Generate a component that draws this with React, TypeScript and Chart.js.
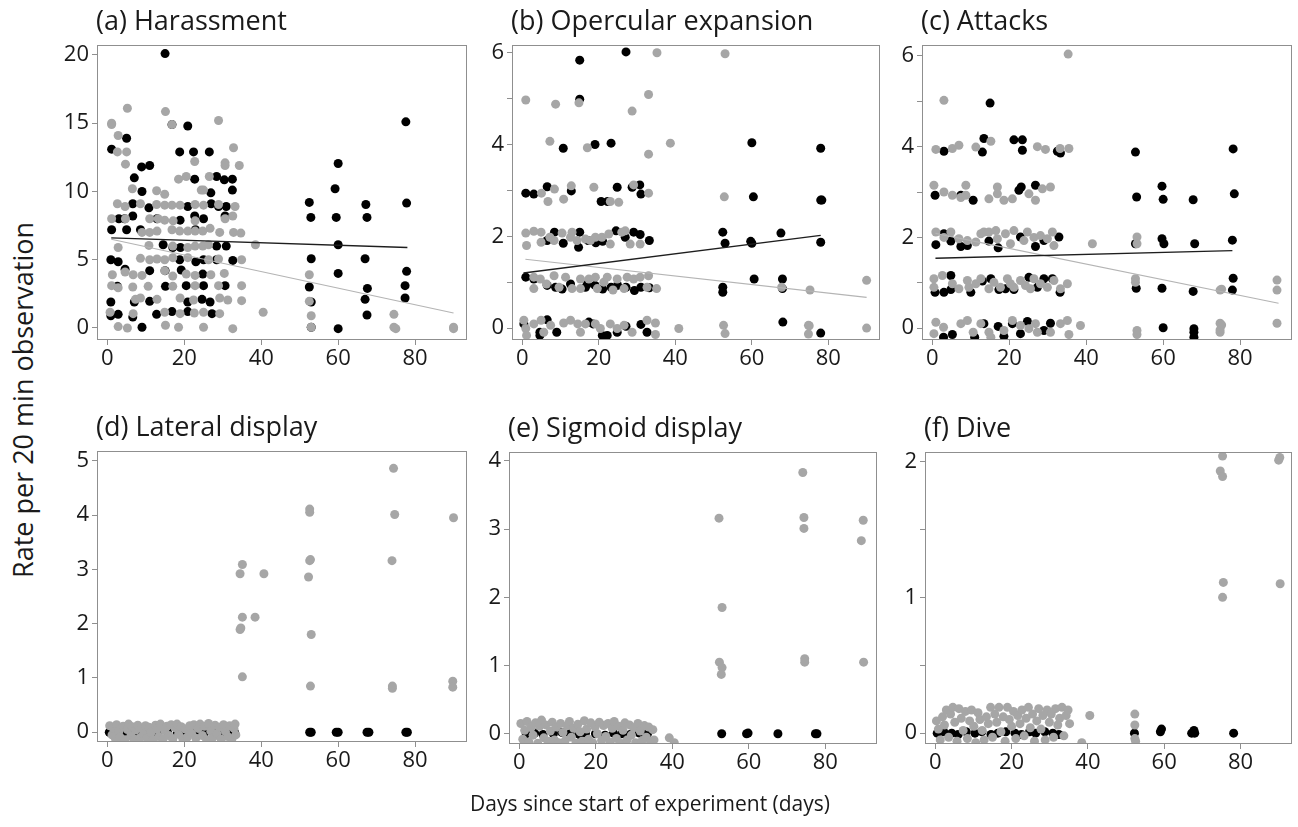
import React, { useEffect, useRef } from "react";
import { Chart, registerables } from "chart.js";

Chart.register(...registerables);

type Pt = [number, number];

// ---------- shared axis data ----------
const xTickValues = [0, 20, 40, 60, 80];
const xAxisTitle = "Days since start of experiment (days)";
const yAxisTitle = "Rate per 20 min observation";

// ---------- (a) Harassment ----------
const harassTitle = "(a) Harassment";
const harassYTicks = [0, 5, 10, 15, 20];
const harassYLabels = [0, 5, 10, 15, 20];
const harassBlack: Pt[] = [
  [15, 20.1], [20.9, 14.8], [16.8, 14.9], [5, 13.9], [1.1, 13.1], [18.8, 12.9], [22.4, 12.9], [26.5, 12.9],
  [8.9, 11.8], [11, 11.9], [7, 11], [22.7, 10.9], [28.4, 11.1], [30.4, 10.85], [32.5, 10.9], [9, 10],
  [26.9, 9.9], [32.5, 10.1], [6.6, 9.1], [10.8, 8.8], [20.9, 8.9], [27, 9.1], [28.9, 8.9], [30.9, 8.9],
  [3, 8], [4.5, 8], [6.6, 8.2], [12.9, 8], [18.9, 7.9], [22.7, 8.2], [25, 8], [30.6, 8.2],
  [1.1, 7.2], [5, 7.2], [8.6, 7.2], [22.9, 7.2], [14.5, 6.1], [17, 5.9], [19, 5.9], [28.4, 6], [30.9, 6],
  [0.9, 5], [2.8, 4.85], [18.8, 5], [23, 4.85], [25, 5], [28.4, 5], [32.6, 4.95], [4.6, 4.3], [11, 4.2],
  [15, 4.2], [19.2, 4.25], [24.8, 3.95], [2.6, 3.05], [15.1, 3.05], [20.5, 3.1], [25, 3.1], [30.6, 3.1],
  [0.9, 1.9], [7, 1.9], [11, 1.95], [20.9, 1.9], [24.6, 2.1], [26.7, 1.9], [2.8, 1], [6.6, 0.8],
  [12.8, 1], [16.8, 1.2], [20.9, 1.2], [27.2, 1.05], [9, 0.05], [0.9, 0.9],
  [60, 12.05], [59.2, 10.2], [52.5, 9.2], [59.5, 8.1], [52.9, 8.1], [67.2, 9.05], [67.5, 8.1], [77.8, 9.15],
  [60, 6.1], [53, 5.07], [67, 5.07], [60, 4.0], [77.8, 4.15], [52.5, 3.0], [67.6, 2.9], [77.4, 3.1],
  [53, 1.9], [67, 2.1], [77.4, 2.2], [67.5, 0.95], [53, 0.05], [60, -0.05], [77.6, 15.1],
];
const harassGray: Pt[] = [
  [5.2, 16.1], [15.1, 15.85], [1.1, 15], [1.1, 14.9], [28.9, 15.2], [16.8, 14.9], [2.8, 14.1], [2.6, 12.9],
  [5, 12.9], [32.8, 13.2], [4.7, 12], [22.7, 12.2], [30.6, 12.1], [34.3, 11.9], [30.6, 11.9], [6.5, 10.2],
  [12.8, 10.05], [14.9, 9.8], [18.5, 10.9], [20.5, 11.1], [26.5, 11.1], [24.4, 10.1], [25, 10.1], [2.6, 9.1],
  [4.6, 8.9], [8.6, 9.1], [12.8, 9.05], [14.9, 9], [16.8, 9], [18.9, 9], [22.8, 9.05], [25, 9], [28.9, 9.05],
  [33.2, 8.9], [1.1, 8], [4.7, 8], [11, 8], [13.2, 8], [14.9, 7.9], [17.1, 7.85], [22.8, 7.85], [30.6, 8],
  [32.6, 8.2], [9, 7], [11, 7], [12.9, 7.1], [16.8, 7.2], [18.8, 7.1], [20.9, 7.1], [22.8, 7.1], [24.8, 7.1],
  [26.7, 7.3], [29.2, 7], [32.8, 7], [34.7, 6.95], [10.8, 6.05], [17, 6], [20.9, 5.9], [22.8, 6], [24.8, 6],
  [26.3, 6.1], [2.8, 5.9], [38.5, 6.1], [8.6, 5.1], [11, 5], [12.9, 5.05], [14.9, 5], [17, 5.15], [20.9, 5.15],
  [26.3, 5], [28.9, 5.05], [34.9, 5], [1.3, 3.9], [4.6, 4.1], [6.7, 3.9], [9, 3.85], [14.9, 4.2], [17, 3.8],
  [20.5, 3.95], [22.8, 3.85], [26.9, 3.9], [30.4, 4], [1.1, 3.1], [2.8, 2.95], [6.6, 3], [10.6, 3.05],
  [17, 3.05], [22.8, 3.1], [28.9, 3.1], [34.9, 3.1], [7.3, 2.1], [8.6, 2.2], [12.9, 2.1], [18.9, 2.2],
  [22.4, 2.05], [29.2, 2.2], [31.3, 2.05], [34.9, 2], [0.7, 1.15], [6.7, 1.05], [14.9, 1.15], [18.9, 1.05],
  [22.6, 1.1], [25, 1.15], [29.2, 1.05], [2.8, 0.1], [5.2, 0], [15.1, 0.2], [18.5, 0.05], [25, 0.05],
  [32.6, -0.05], [40.5, 1.15], [52.5, 3.9], [52.5, 1.95], [53, 0.9], [53, 0.05], [74.5, 1], [74.5, 0.05],
  [75, -0.05], [90, 0.05], [90, -0.05],
];
const harassBlackFit: Pt[] = [[1, 6.6], [78, 5.9]];
const harassGrayFit: Pt[] = [[1, 6.5], [90, 1.1]];

// ---------- (b) Opercular expansion ----------
const operTitle = "(b) Opercular expansion";
const operYTicks = [0, 1, 2, 3, 4, 5, 6];
const operYLabels = [0, 2, 4, 6];
const operBlack: Pt[] = [
  [15, 5.84], [27.1, 6.02], [15, 4.99], [10.7, 3.92], [19, 4], [23.2, 4.03], [0.9, 2.94], [3, 2.92],
  [6.5, 3.08], [12.8, 2.99], [24.8, 3.07], [28.7, 3.07], [30.7, 3.12], [31, 2.92], [20.6, 2.76], [22.3, 2.76],
  [8.4, 2.09], [15, 2.09], [17.2, 1.91], [14.7, 1.76], [19.2, 1.86], [21, 1.89], [24.5, 2.12], [26.9, 1.98],
  [29.1, 2.09], [30.8, 2.04], [33.2, 1.91], [10.7, 1.85], [6.5, 1.91], [0.9, 1.11], [3, 1.07], [6.5, 0.93],
  [8.7, 0.89], [10.4, 0.85], [12.6, 0.96], [16.5, 0.89], [17, 0.96], [19, 0.93], [21, 0.85], [23.2, 0.89],
  [24.9, 0.93], [27.1, 0.89], [29.3, 0.82], [31, 0.89], [33.2, 0.88], [0.4, 0.09], [4.6, -0.09], [4.6, -0.16],
  [6.5, 0.18], [9, -0.09], [17.4, 0.13], [18.5, 0.09], [20.9, -0.16], [22.2, -0.16], [24.8, -0.09], [27.1, 0.04],
  [31, 0.08], [32.6, -0.09],
  [60, 4.04], [60.4, 2.86], [52.4, 2.09], [53, 1.85], [59.7, 1.89], [60, 1.85], [67.6, 2.07], [78, 1.87],
  [60.6, 1.07], [68, 1.07], [68, 0.86], [52.4, 0.89], [52.4, 0.78], [68.1, 0.13], [78, 3.92], [78, 2.79],
  [78.3, 2.79], [78, -0.11],
];
const operGray: Pt[] = [
  [0.9, 4.97], [8.7, 4.88], [14.8, 4.91], [28.7, 4.73], [33, 5.09], [35.2, 6], [53, 5.98], [7.2, 4.07],
  [17, 3.93], [33, 3.79], [38.7, 4.03], [5, 2.94], [6.7, 2.76], [8.4, 3.03], [10.8, 2.81], [12.8, 3.1],
  [18.7, 3.07], [23, 2.76], [25.2, 2.74], [29.1, 3.12], [33, 2.94], [52.8, 2.86],
  [0.9, 2.07], [1.1, 1.8], [3, 2.11], [4.9, 2.09], [4.9, 1.87], [7.2, 1.98], [8.3, 1.91], [10.4, 2.07],
  [12.6, 1.98], [13, 2.09], [14.3, 1.91], [16.5, 1.94], [17.8, 1.91], [19.1, 1.98], [20.8, 1.98], [22.6, 2.05],
  [23, 1.83], [26, 2.09], [26.9, 2.12], [28.2, 1.83], [30.8, 1.83],
  [3, 1.11], [3, 0.86], [4.7, 1.07], [6.3, 0.96], [8.3, 1.14], [9.6, 0.89], [11.3, 1.11], [13, 0.86],
  [15.2, 1.07], [15.2, 0.86], [17.4, 1.07], [19.1, 1.11], [19.6, 0.86], [21.3, 1], [22.2, 1.11], [23.7, 0.83],
  [24.8, 1.07], [26.6, 0.86], [27.4, 1.11], [29.1, 1.07], [30.8, 1.11], [32.6, 0.89], [33, 1.14], [35.1, 0.86],
  [67.8, 0.89], [75.2, 0.83], [90, 1.04],
  [0.4, 0.17], [0.9, -0.01], [1.1, -0.16], [3, 0.09], [4.9, 0.17], [5.6, -0.09], [7.4, 0.06], [10.8, 0.11],
  [12.6, 0.17], [14.5, 0.09], [15.2, -0.09], [16.5, 0.09], [19.1, 0.09], [20.4, -0.01], [23, 0.09], [24.8, -0.01],
  [26.6, 0.06], [28.7, -0.09], [32.6, 0.17], [34.8, 0.11], [34.8, -0.14], [40.9, -0.01], [52.6, 0.06], [53, -0.12],
  [74.8, 0.06], [74.8, -0.13], [75, 0.05], [90, 0],
];
const operBlackFit: Pt[] = [[0.3, 1.2], [78, 2.02]];
const operGrayFit: Pt[] = [[0.8, 1.5], [90, 0.67]];

// ---------- (c) Attacks ----------
const attackTitle = "(c) Attacks";
const attackYTicks = [0, 1, 2, 3, 4, 5, 6];
const attackYLabels = [0, 2, 4, 6];
const attackBlack: Pt[] = [
  [15, 4.96], [3, 3.9], [13, 3.88], [13.4, 4.18], [21.2, 4.15], [23.4, 4.15], [23.4, 3.92], [32.5, 3.9],
  [33.3, 3.86], [0.7, 2.93], [7.4, 2.93], [10.6, 2.82], [22.5, 3.04], [23.1, 3.11], [26.8, 3.15],
  [0.9, 1.84], [3, 2.08], [4.8, 1.92], [7.4, 1.8], [9.1, 1.82], [14.7, 1.92], [17.1, 1.77], [22.9, 2.01],
  [26.8, 1.8], [29, 1.93], [32.9, 2.01], [0.7, 0.79], [3, 0.79], [4.8, 1.16], [4.8, 0.85], [10, 0.79],
  [13, 1.04], [15.2, 1.09], [17.3, 0.85], [19, 0.87], [21.2, 0.85], [25.1, 1.12], [27.3, 0.9], [29, 1.09],
  [31.2, 1.09], [33.2, 0.79], [2.9, -0.2], [5.2, -0.14], [13.4, 0.1], [11, -0.2], [17.1, 0.04], [18.6, -0.18],
  [20.8, 0.1], [22.9, -0.12], [24.7, 0.15], [29, -0.05], [30.7, 0.11],
  [52.8, 3.88], [53.1, 2.89], [59.7, 3.13], [60, 2.84], [67.8, 2.83], [52.8, 1.86], [59.7, 1.97], [60.2, 1.86],
  [68.2, 1.86], [53, 0.88], [59.7, 0.88], [67.8, 0.81], [60, 0.01], [68, -0.01], [68, -0.2], [68, -0.09],
  [78.2, 3.95], [78.5, 2.96], [78, 1.94], [78.2, 1.1], [78, 0.84],
];
const attackGray: Pt[] = [
  [3, 5.02], [35.3, 6.04], [0.9, 3.94], [5.2, 3.96], [6.9, 4.03], [11.3, 3.99], [15.2, 4.12], [27.3, 4],
  [29.4, 3.94], [33.2, 3.96], [35.5, 3.96],
  [0.4, 3.15], [3, 3], [5.2, 2.93], [7.4, 2.88], [8.7, 3.15], [8.7, 2.93], [14.7, 2.85], [16.9, 3.11],
  [16.9, 2.96], [18.6, 2.82], [20.8, 2.85], [25.1, 2.96], [26.8, 2.82], [28.6, 3.07], [30.7, 3.11],
  [0.9, 2.12], [3, 2], [4.8, 2.12], [6.9, 1.97], [9.1, 1.93], [11.3, 1.9], [12.6, 2.08], [13.4, 2.12],
  [14.7, 2.12], [16.5, 2.15], [16.9, 1.97], [19, 2.08], [20.3, 1.86], [21.2, 2.15], [23.8, 1.93], [24.7, 2.12],
  [26.4, 2], [28.1, 2.04], [29.9, 1.97], [31.2, 2.12], [31.6, 1.82], [41.6, 1.86], [53.2, 2.01], [53.2, 1.86],
  [0.4, 1.09], [0.4, 0.9], [2.6, 1.16], [5.2, 0.98], [6.9, 0.87], [9.1, 1.05], [9.5, 0.9], [11.3, 0.98],
  [12.6, 1.09], [14.7, 0.87], [16, 1.01], [17.7, 0.9], [19.5, 1.09], [20.3, 0.98], [21.2, 0.9], [22.9, 1.05],
  [24.2, 0.94], [25.5, 0.87], [26.4, 1.09], [28.1, 0.98], [29.9, 0.9], [31.6, 1.05], [33.3, 0.87], [35.1, 0.98],
  [52.8, 1.09], [52.8, 1.01], [74.8, 0.84], [75.2, 0.86], [89.6, 1.06], [89.6, 0.84],
  [0.4, -0.12], [0.9, 0.13], [2.9, 0.02], [7.4, 0.1], [9.1, 0.17], [10.6, -0.09], [12.6, 0.1], [14.7, -0.09],
  [15.2, -0.2], [18.6, -0.05], [20.8, 0.17], [22.9, 0.06], [25.1, -0.01], [26.8, 0.1], [27.3, -0.09],
  [30.7, -0.09], [33.3, 0.1], [35.1, 0.17], [35.5, -0.14], [38.5, 0.06], [53.2, -0.05], [53.2, -0.14],
  [74.8, 0.11], [74.8, -0.04], [75.2, 0.07], [74.8, -0.09], [89.6, 0.11],
];
const attackBlackFit: Pt[] = [[0.8, 1.54], [78, 1.71]];
const attackGrayFit: Pt[] = [[0.8, 2.09], [90, 0.55]];

// ---------- (d) Lateral display ----------
const lateralTitle = "(d) Lateral display";
const lateralYTicks = [0, 1, 2, 3, 4, 5];
const lateralYLabels = [0, 1, 2, 3, 4, 5];
const lateralBlack: Pt[] = [
  [0.5, 0], [2.6, 0.01], [4.9, -0.01], [7.4, 0], [9.5, 0.02], [12.3, 0], [13.1, -0.02], [15.6, 0.01],
  [18.2, 0], [20.6, -0.01], [23.3, 0.01], [25.4, 0], [27.8, -0.02], [30.1, 0], [32.7, 0.01], [33.1, -0.01],
  [52.6, 0], [53, 0], [59.5, 0], [60, 0], [67.5, 0], [68, 0], [77.6, 0], [78, 0],
];
const lateralGray: Pt[] = [
  [0.6, 0.12], [1.2, -0.05], [1.5, 0.08], [2.1, -0.12], [2.4, 0.14], [3.0, 0.02], [3.3, -0.09], [4.1, 0.11],
  [4.6, -0.14], [5.2, 0.05], [5.5, 0.15], [6.1, -0.07], [6.4, 0.1], [7.0, -0.13], [7.3, 0.04], [7.9, 0.13],
  [8.5, -0.1], [8.8, 0.07], [9.4, -0.03], [9.9, 0.12], [10.3, -0.11], [10.8, 0.09], [11.4, 0.0], [11.9, -0.14],
  [12.5, 0.13], [12.9, 0.06], [13.4, -0.08], [13.8, 0.15], [14.5, -0.12], [14.9, 0.03], [15.5, 0.11], [16.0, -0.06],
  [16.6, 0.14], [17.0, -0.13], [17.6, 0.08], [18.1, 0.15], [18.5, -0.04], [19.2, 0.1], [19.6, -0.12], [20.3, 0.06],
  [20.8, -0.09], [21.4, 0.12], [21.9, -0.02], [22.5, 0.14], [23.0, -0.11], [23.6, 0.07], [24.1, 0.15], [24.7, -0.06],
  [25.2, 0.11], [25.8, -0.14], [26.3, 0.16], [26.9, 0.02], [27.4, -0.1], [28.0, 0.13], [28.5, -0.03], [29.1, 0.09],
  [29.6, -0.13], [30.2, 0.14], [30.7, 0.01], [31.3, -0.08], [31.8, 0.12], [32.4, -0.12], [32.9, 0.07], [33.2, 0.15],
  [33.4, -0.05],
  [35.1, 3.09], [34.5, 2.92], [40.7, 2.92], [35.1, 2.12], [38.4, 2.12], [34.5, 1.89], [34.7, 1.92], [35.1, 1.02],
  [52.6, 4.11], [52.6, 4.05], [52.6, 3.16], [52.8, 3.18], [52.3, 2.86], [53, 1.8], [52.8, 0.85], [74.4, 4.86],
  [74.7, 4.01], [74, 3.16], [74.1, 0.85], [74.1, 0.81], [90, 3.95], [89.8, 0.94], [89.8, 0.83],
];

// ---------- (e) Sigmoid display ----------
const sigmoidTitle = "(e) Sigmoid display";
const sigmoidYTicks = [0, 1, 2, 3, 4];
const sigmoidYLabels = [0, 1, 2, 3, 4];
const sigmoidBlack: Pt[] = [
  [1.8, 0], [4.0, 0.01], [6.2, -0.01], [8.9, 0], [11.1, 0.02], [13.3, 0], [15.7, -0.01], [17.3, 0.01],
  [19.9, 0], [22.4, -0.02], [24.6, 0.01], [26.8, 0], [29.0, -0.01], [31.4, 0.01], [33.5, 0],
  [52.9, 0], [59.4, 0], [59.8, 0.01], [67.6, 0], [77.4, 0], [77.8, 0],
];
const sigmoidGray: Pt[] = [
  [0.4, 0.15], [0.9, -0.08], [1.4, 0.05], [2.0, 0.18], [2.5, -0.12], [3.1, 0.09], [3.6, -0.02], [4.2, 0.16],
  [4.8, -0.14], [5.3, 0.11], [5.8, 0.2], [6.4, -0.06], [6.9, 0.13], [7.5, -0.11], [8.1, 0.04], [8.6, 0.17],
  [9.2, -0.09], [9.7, 0.1], [10.3, -0.13], [10.8, 0.15], [11.4, 0.02], [12.0, -0.1], [12.5, 0.12], [13.1, 0.18],
  [13.6, -0.05], [14.2, 0.08], [14.8, -0.14], [15.3, 0.14], [15.9, 0.03], [16.4, -0.11], [17.0, 0.19], [17.6, 0.07],
  [18.1, -0.08], [18.7, 0.16], [19.2, -0.13], [19.8, 0.1], [20.4, 0.0], [20.9, 0.17], [21.5, -0.1], [22.0, 0.12],
  [22.6, -0.04], [23.2, 0.15], [23.7, -0.12], [24.3, 0.08], [24.8, 0.18], [25.4, -0.07], [26.0, 0.11], [26.5, -0.14],
  [27.1, 0.05], [27.6, 0.16], [28.2, -0.09], [28.8, 0.13], [29.3, -0.02], [29.9, 0.09], [30.4, -0.13], [31.0, 0.15],
  [31.6, 0.04], [32.1, -0.1], [32.7, 0.12], [33.2, -0.05], [33.8, 0.1], [34.3, -0.12], [34.9, 0.06], [35.2, -0.09],
  [39.2, -0.06], [40.5, -0.13],
  [52.2, 3.16], [53, 1.85], [52.3, 1.05], [53, 0.97], [52.8, 0.87], [74.1, 3.83], [74.4, 3.17], [74.4, 3.01],
  [74.6, 1.1], [74.6, 1.05], [89.9, 3.13], [89.4, 2.83], [90, 1.05],
];

// ---------- (f) Dive ----------
const diveTitle = "(f) Dive";
const diveYTicks = [0, 0.5, 1, 1.5, 2];
const diveYLabels = [0, 1, 2];
const diveBlack: Pt[] = [
  [0.5, 0], [2.2, 0.01], [4.3, 0], [6.0, -0.01], [8.1, 0.01], [10.4, 0], [12.2, 0.01], [14.6, -0.01],
  [16.4, 0], [18.5, 0.01], [20.9, 0], [22.6, -0.01], [24.7, 0.01], [26.3, 0], [28.7, 0.01], [30.8, 0],
  [32.4, -0.01], [52.2, 0], [59, 0.01], [59.3, 0.03], [67.2, 0], [68, 0], [67.8, 0.02], [78.2, 0],
];
const diveGray: Pt[] = [
  [0.3, 0.09], [0.8, 0.03], [1.3, -0.05], [1.9, 0.12], [2.4, 0.06], [2.9, 0.17], [3.5, -0.03], [4.0, 0.14],
  [4.6, 0.19], [5.1, 0.08], [5.7, -0.06], [6.2, 0.18], [6.8, 0.11], [7.3, 0.02], [7.9, 0.16], [8.4, -0.04],
  [9.0, 0.09], [9.5, 0.17], [10.1, 0.05], [10.6, -0.07], [11.2, 0.15], [11.7, 0.1], [12.3, 0.02], [12.8, -0.05],
  [13.4, 0.12], [13.9, 0.07], [14.5, 0.19], [15.0, -0.03], [15.6, 0.14], [16.1, 0.08], [16.7, 0.19], [17.2, 0.01],
  [17.8, 0.12], [18.3, -0.06], [18.9, 0.19], [19.4, 0.1], [20.0, 0.05], [20.5, 0.16], [21.1, -0.04], [21.6, 0.13],
  [22.2, 0.07], [22.7, 0.17], [23.3, -0.02], [23.8, 0.11], [24.4, 0.19], [24.9, 0.04], [25.5, 0.14], [26.0, -0.06],
  [26.6, 0.09], [27.1, 0.18], [27.7, 0.03], [28.2, 0.13], [28.8, -0.05], [29.3, 0.17], [29.9, 0.08], [30.4, 0.14],
  [31.0, -0.03], [31.5, 0.18], [32.1, 0.06], [32.6, 0.11], [33.2, 0.19], [33.7, -0.02], [34.3, 0.13], [34.8, 0.17],
  [35.2, 0.07], [40.5, 0.13], [38.4, -0.07],
  [52.3, 0.14], [52.3, 0.06], [52.3, -0.04], [52.5, -0.06], [75.3, 2.04], [74.7, 1.93], [75.3, 1.89],
  [75.5, 1.11], [75.3, 1.0], [90.3, 2.03], [90, 2.01], [90.4, 1.1],
];

// ---------- layout (positions, ranges, styles) ----------
const X_MIN = -2.7;
const X_MAX = 93.5;
const Y_AXIS_W = 52;
const TOP_PAD = 45;
const X_AXIS_H = 32;
const RIGHT_PAD = 8;

const FONT = "'Open Sans', 'DejaVu Sans', sans-serif";
const GRAY = "#a6a6a6";
const BLACK = "#000000";
const FRAME = "#8f8f8f";
const TEXT = "#1a1a1a";

interface PanelSpec {
  title: string;
  black: Pt[];
  gray: Pt[];
  blackFit?: Pt[];
  grayFit?: Pt[];
  yTicks: number[];
  yLabels: number[];
  yMin: number;
  yMax: number;
  frame: { l: number; t: number; r: number; b: number };
}

const panels: PanelSpec[] = [
  { title: harassTitle, black: harassBlack, gray: harassGray, blackFit: harassBlackFit, grayFit: harassGrayFit,
    yTicks: harassYTicks, yLabels: harassYLabels, yMin: -0.88, yMax: 20.73, frame: { l: 97, t: 45, r: 467, b: 340 } },
  { title: operTitle, black: operBlack, gray: operGray, blackFit: operBlackFit, grayFit: operGrayFit,
    yTicks: operYTicks, yLabels: operYLabels, yMin: -0.26, yMax: 6.17, frame: { l: 512, t: 45, r: 880, b: 340 } },
  { title: attackTitle, black: attackBlack, gray: attackGray, blackFit: attackBlackFit, grayFit: attackGrayFit,
    yTicks: attackYTicks, yLabels: attackYLabels, yMin: -0.26, yMax: 6.24, frame: { l: 922, t: 45, r: 1292, b: 340 } },
  { title: lateralTitle, black: lateralBlack, gray: lateralGray,
    yTicks: lateralYTicks, yLabels: lateralYLabels, yMin: -0.18, yMax: 5.18, frame: { l: 97, t: 451, r: 467, b: 742 } },
  { title: sigmoidTitle, black: sigmoidBlack, gray: sigmoidGray,
    yTicks: sigmoidYTicks, yLabels: sigmoidYLabels, yMin: -0.15, yMax: 4.13, frame: { l: 509, t: 452, r: 877, b: 744 } },
  { title: diveTitle, black: diveBlack, gray: diveGray,
    yTicks: diveYTicks, yLabels: diveYLabels, yMin: -0.08, yMax: 2.07, frame: { l: 925, t: 452, r: 1292, b: 744 } },
];

const toXY = (pts: Pt[]) => pts.map(([x, y]) => ({ x, y }));

const framePlugin = {
  id: "panelFrame",
  afterDraw(chart: any, _args: any, opts: any) {
    const { ctx, chartArea } = chart;
    ctx.save();
    ctx.strokeStyle = FRAME;
    ctx.lineWidth = 1;
    ctx.strokeRect(chartArea.left + 0.5, chartArea.top + 0.5, chartArea.right - chartArea.left - 1, chartArea.bottom - chartArea.top - 1);
    ctx.fillStyle = TEXT;
    ctx.font = `27px ${FONT}`;
    ctx.textAlign = "left";
    ctx.textBaseline = "middle";
    ctx.fillText(opts.text || "", chartArea.left - 1, chartArea.top - 23);
    ctx.restore();
  },
};

function Panel({ spec }: { spec: PanelSpec }) {
  const ref = useRef<HTMLCanvasElement | null>(null);
  const { frame } = spec;
  const width = frame.r - frame.l + Y_AXIS_W + RIGHT_PAD;
  const height = frame.b - frame.t + TOP_PAD + X_AXIS_H;

  useEffect(() => {
    if (!ref.current) return;
    const datasets: any[] = [];
    if (spec.blackFit) {
      datasets.push({ type: "line", data: toXY(spec.blackFit), borderColor: "#1e1e1e", borderWidth: 1.4, pointRadius: 0, showLine: true, clip: 0 });
    }
    if (spec.grayFit) {
      datasets.push({ type: "line", data: toXY(spec.grayFit), borderColor: "#b4b4b4", borderWidth: 1.2, pointRadius: 0, showLine: true, clip: 0 });
    }
    datasets.push({ data: toXY(spec.gray), backgroundColor: GRAY, borderColor: GRAY, borderWidth: 0, pointRadius: 4.5, clip: 0 });
    datasets.push({ data: toXY(spec.black), backgroundColor: BLACK, borderColor: BLACK, borderWidth: 0, pointRadius: 4.5, clip: 0 });

    const tickFont = { family: FONT, size: 22 };
    const chart = new Chart(ref.current, {
      type: "scatter",
      data: { datasets },
      options: {
        animation: false,
        responsive: false,
        maintainAspectRatio: false,
        devicePixelRatio: 1,
        events: [],
        layout: { padding: { top: TOP_PAD, right: RIGHT_PAD, left: 0, bottom: 0 } },
        plugins: {
          legend: { display: false },
          tooltip: { enabled: false },
          title: { display: false },
          panelFrame: { text: spec.title },
        } as any,
        scales: {
          x: {
            type: "linear",
            min: X_MIN,
            max: X_MAX,
            afterBuildTicks: (scale: any) => {
              scale.ticks = xTickValues.map((v) => ({ value: v }));
            },
            afterFit: (scale: any) => {
              scale.height = X_AXIS_H;
            },
            ticks: { font: tickFont, color: TEXT, padding: 1, maxRotation: 0, autoSkip: false, callback: (v: any) => String(v) },
            grid: { drawOnChartArea: false, drawTicks: true, tickLength: 5, color: FRAME, lineWidth: 1 },
            border: { display: false },
          },
          y: {
            type: "linear",
            min: spec.yMin,
            max: spec.yMax,
            afterBuildTicks: (scale: any) => {
              scale.ticks = spec.yTicks.map((v) => ({ value: v }));
            },
            afterFit: (scale: any) => {
              scale.width = Y_AXIS_W;
            },
            ticks: {
              font: tickFont,
              color: TEXT,
              padding: 3,
              autoSkip: false,
              callback: (v: any) => (spec.yLabels.includes(Number(v)) ? String(v) : ""),
            },
            grid: { drawOnChartArea: false, drawTicks: true, tickLength: 5, color: FRAME, lineWidth: 1 },
            border: { display: false },
          },
        },
      },
      plugins: [framePlugin],
    });
    return () => chart.destroy();
  }, [spec]);

  return (
    <canvas
      ref={ref}
      width={width}
      height={height}
      style={{ position: "absolute", left: frame.l - Y_AXIS_W, top: frame.t - TOP_PAD, width, height }}
    />
  );
}

export default function App() {
  return (
    <div style={{ position: "absolute", left: 0, top: 0, width: 1298, height: 827, overflow: "hidden", background: "#ffffff", fontFamily: FONT }}>
      {panels.map((p) => (
        <Panel key={p.title} spec={p} />
      ))}
      <div
        style={{
          position: "absolute",
          left: 22,
          top: 400,
          transform: "translate(-50%, -50%) rotate(-90deg)",
          whiteSpace: "nowrap",
          fontSize: 27,
          color: TEXT,
        }}
      >
        {yAxisTitle}
      </div>
      <div
        style={{
          position: "absolute",
          left: 650,
          top: 803,
          transform: "translate(-50%, -50%)",
          whiteSpace: "nowrap",
          fontSize: 21,
          color: TEXT,
        }}
      >
        {xAxisTitle}
      </div>
    </div>
  );
}
